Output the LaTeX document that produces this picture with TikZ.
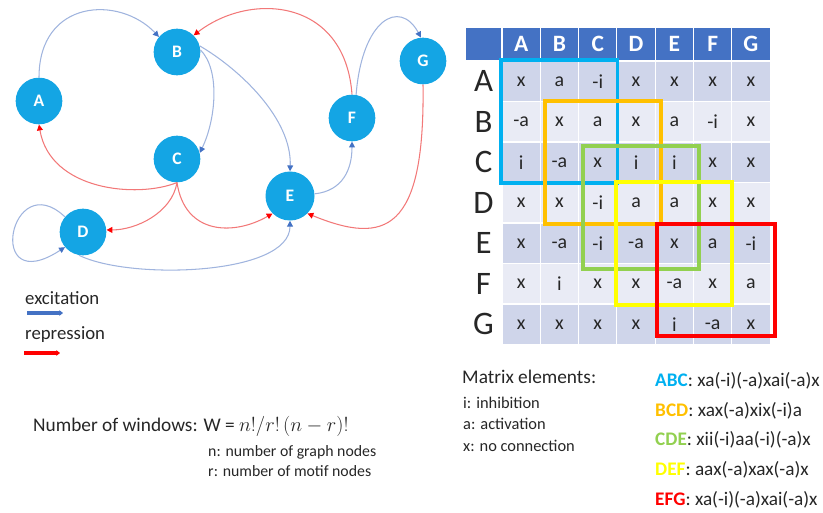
\documentclass[tikz,border=0pt]{standalone}
\usepackage{fontspec}
\setmainfont{Carlito}
\usetikzlibrary{arrows.meta,positioning,calc}
\definecolor{gnode}{RGB}{20,165,228}
\definecolor{header}{RGB}{68,114,196}
\definecolor{rowdark}{RGB}{207,213,234}
\definecolor{rowlight}{RGB}{233,235,245}
\definecolor{exline}{RGB}{160,180,222}
\definecolor{exhead}{RGB}{68,114,196}
\definecolor{reline}{RGB}{242,120,120}
\definecolor{rehead}{RGB}{255,0,0}
\definecolor{txt}{RGB}{38,38,38}
\definecolor{abc}{RGB}{0,176,240}
\definecolor{bcd}{RGB}{255,192,0}
\definecolor{cde}{RGB}{146,208,80}
\definecolor{def}{RGB}{255,255,0}
\definecolor{efg}{RGB}{255,0,0}

\begin{document}
\begin{tikzpicture}[x=0.03cm, y=-0.03cm,
    gene/.style={circle, fill=gnode, text=white, minimum size=1.4cm, inner sep=0,
        font=\fontsize{15}{18}\selectfont\bfseries},
    exc/.style={exline, line width=0.9pt, -{Triangle[length=5pt,width=5pt,color=exhead]}},
    rep/.style={reline, line width=0.9pt, -{Triangle[length=5pt,width=5pt,color=rehead]}},
    head/.style={rectangle, fill=header, draw=white, line width=1pt, text=white, inner sep=0,
        minimum width=1.149cm, minimum height=1.02cm, font=\fontsize{20}{24}\selectfont\bfseries},
    rowlbl/.style={rectangle, inner sep=0, minimum width=1.11cm, minimum height=1.215cm,
        text=txt, font=\fontsize{28}{32}\selectfont},
    cell/.style={rectangle, draw=white, line width=1pt, inner sep=0, text=txt,
        minimum width=1.149cm, minimum height=1.215cm, font=\fontsize{17}{20}\selectfont},
    win/.style={line width=3.4pt},
    lbl/.style={anchor=west, inner sep=0, text=txt}]
    \useasboundingbox (0,0) rectangle (823,513);

    \node[gene] (A) at (39,101) {A};
    \node[gene] (B) at (177,52) {B};
    \node[gene] (C) at (177,159) {C};
    \node[gene] (D) at (83,232) {D};
    \node[gene, minimum size=1.47cm] (E) at (290,196) {E};
    \node[gene] (F) at (352,118) {F};
    \node[gene] (G) at (423,61) {G};

    \draw[exc] (A.north) .. controls +(0,-78) and +(-40,-42) .. (B.140);
    \draw[rep] (F.north) .. controls +(-7,-96) and +(57,-44) .. (B.45);
    \draw[exc] (F.80) .. controls +(6,-76) and +(-21,-39) .. (G.95);
    \draw[exc] (B.5) .. controls +(20,20) and +(16,-33) .. (C.15);
    \draw[exc] (B.15) .. controls +(41,24) and +(2,-52) .. (E.north);
    \draw[rep] (C.south) .. controls +(-40,16) and +(11,66) .. (A.south);
    \draw[rep] (C.south) .. controls +(-5,30) and +(30,0) .. (D.5);
    \draw[rep] (C.south) .. controls +(8,53) and +(-38,22) .. (E.225);
    \draw[exc] (D.260) .. controls +(50,25) and +(0,55) .. (E.south);
    \draw[exc] (D.140) .. controls +(-55,-52) and +(-81,53) .. (D.220);
    \draw[exc] (E.5) .. controls +(28,-3) and +(0,28) .. (F.south);
    \draw[rep] (G.south) .. controls +(2,147) and +(78,32) .. (E.315);

    \node[lbl, font=\fontsize{16}{19}\selectfont] (exlbl) at (25,298) {excitation};
    \coordinate (ex1) at (27,313);
    \coordinate (ex2) at (63,313);
    \draw[exhead, line width=3pt, -{Triangle[length=3pt,width=4.5pt]}] (ex1) -- (ex2);
    \node[lbl, font=\fontsize{16}{19}\selectfont] (relbl) at (25,335) {repression};
    \coordinate (re1) at (24,353);
    \coordinate (re2) at (60,353);
    \draw[rehead, line width=3pt, -{Triangle[length=3pt,width=4.5pt]}] (re1) -- (re2);

    \node[head, minimum width=1.11cm] (corner) at (483.5,44) {};
    \foreach \L [count=\j] in {A,...,G} {
        \node[head] (h-\j) at ({502+38.3*(\j-0.5)},44) {\L};
        \node[rowlbl] (r-\j) at (483.5,{61+40.5*(\j-0.5)}) {\L};
    }
    \foreach \vals [count=\i] in {{x,a,-i,x,x,x,x},{-a,x,a,x,a,-i,x},{i,-a,x,i,i,x,x},
        {x,x,-i,a,a,x,x},{x,-a,-i,-a,x,a,-i},{x,i,x,x,-a,x,a},{x,x,x,x,i,-a,x}} {
        \ifodd\i\relax\def\rowcol{rowdark}\else\def\rowcol{rowlight}\fi
        \foreach \v [count=\j] in \vals
            \node[cell, fill=\rowcol] (c-\i-\j) at ({502+38.3*(\j-0.5)},{61+40.5*(\i-0.5)}) {\v};
    }

    \draw[win, abc] (c-1-1.north west) rectangle (c-3-3.south east);
    \draw[win, bcd] ([xshift=0.15cm]c-2-2.north west) rectangle ([xshift=0.15cm]c-4-4.south east);
    \draw[win, cde] ([shift={(0.15cm,-0.15cm)}]c-3-3.north west) rectangle ([shift={(0.15cm,-0.15cm)}]c-5-5.south east);
    \draw[win, def] (c-4-4.north west) rectangle (c-6-6.south east);
    \draw[win, efg] ([shift={(0.06cm,-0.06cm)}]c-5-5.north west) rectangle ([shift={(0.12cm,0.27cm)}]c-7-7.south east);

    \node[lbl, font=\fontsize{16.5}{20}\selectfont] (nwin) at (33,426)
        {Number of windows: W = $n!/r!\,(n-r)!$};
    \node[lbl, font=\fontsize{13.5}{16}\selectfont] (nlbl) at (208,452) {n: number of graph nodes};
    \node[lbl, font=\fontsize{13.5}{16}\selectfont] (rlbl) at (208,471) {r: number of motif nodes};

    \node[lbl, font=\fontsize{16.5}{20}\selectfont] (melem) at (462,377) {Matrix elements:};
    \node[lbl, font=\fontsize{14}{17}\selectfont] (ilbl) at (463,403) {i: inhibition};
    \node[lbl, font=\fontsize{14}{17}\selectfont] (albl) at (463,424) {a: activation};
    \node[lbl, font=\fontsize{14}{17}\selectfont] (xlbl) at (463,446) {x: no connection};

    \node[lbl, font=\fontsize{16.4}{20}\selectfont] (wabc) at (655,381) {\textcolor{abc}{\textbf{ABC}}: xa(-i)(-a)xai(-a)x};
    \node[lbl, font=\fontsize{16.4}{20}\selectfont] (wbcd) at (655,411) {\textcolor{bcd}{\textbf{BCD}}: xax(-a)xix(-i)a};
    \node[lbl, font=\fontsize{16.4}{20}\selectfont] (wcde) at (655,440) {\textcolor{cde}{\textbf{CDE}}: xii(-i)aa(-i)(-a)x};
    \node[lbl, font=\fontsize{16.4}{20}\selectfont] (wdef) at (655,470) {\textcolor{def}{\textbf{DEF}}: aax(-a)xax(-a)x};
    \node[lbl, font=\fontsize{16.4}{20}\selectfont] (wefg) at (655,500) {\textcolor{efg}{\textbf{EFG}}: xa(-i)(-a)xai(-a)x};
\end{tikzpicture}
\end{document}
